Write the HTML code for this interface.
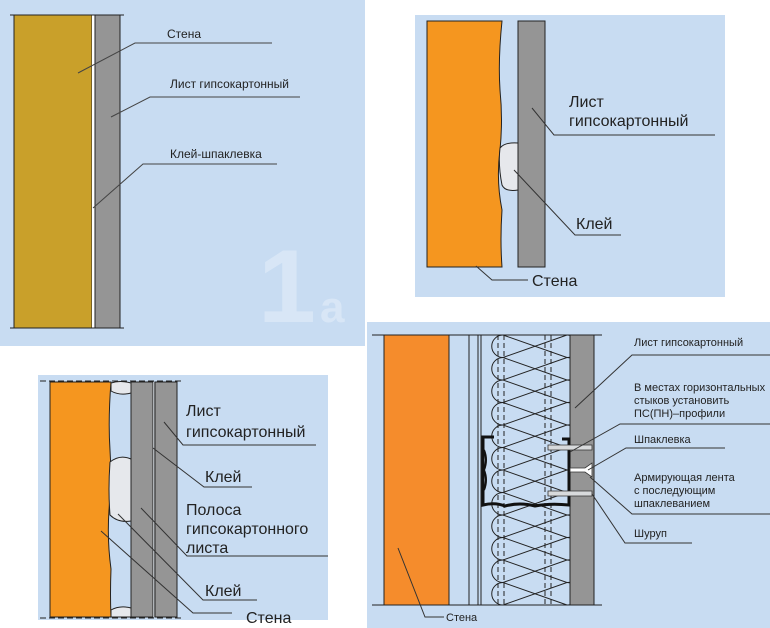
<!DOCTYPE html>
<html><head><meta charset="utf-8"><style>
html,body{margin:0;padding:0;background:#fff;}
svg{display:block;}
text{font-family:"Liberation Sans",sans-serif;fill:#222;}
</style></head><body>
<svg width="770" height="628" viewBox="0 0 770 628" xmlns="http://www.w3.org/2000/svg">
<!-- Panel 1 -->
<rect x="0" y="0" width="365" height="346" fill="#c8dcf2"/>
<text x="258" y="322" font-size="104" font-weight="bold" style="fill:#d8e6f6">1</text>
<text x="320" y="322" font-size="44" font-weight="bold" style="fill:#d8e6f6">a</text>
<rect x="14" y="15" width="78" height="313" fill="#c9a02a" stroke="#222" stroke-width="1"/>
<rect x="92" y="15" width="3" height="313" fill="#fff"/>
<rect x="95" y="15" width="25" height="313" fill="#959595" stroke="#222" stroke-width="1"/>
<line x1="10" y1="15" x2="127" y2="15" stroke="#222" stroke-dasharray="6,3"/>
<line x1="10" y1="328" x2="127" y2="328" stroke="#222" stroke-dasharray="6,3"/>
<polyline points="78,73 135,43 272,43" fill="none" stroke="#444"/>
<polyline points="111,117 150,97 300,97" fill="none" stroke="#444"/>
<polyline points="93,208 143,164 277,164" fill="none" stroke="#444"/>
<text x="167" y="38" font-size="12">Стена</text>
<text x="170" y="88" font-size="12">Лист гипсокартонный</text>
<text x="170" y="158" font-size="12">Клей-шпаклевка</text>

<!-- Panel 2 -->
<rect x="415" y="15" width="310" height="282" fill="#c8dcf2"/>
<path d="M427 21 L502 21 Q498 60 500 90 Q503 120 500 150 Q496 180 502 210 Q500 240 502 267 L427 267 Z" fill="#f5961f" stroke="#222"/>
<rect x="518" y="21" width="27" height="246" fill="#959595" stroke="#222"/>
<path d="M500 148 Q505 142 518 143 L518 190 Q505 192 502 185 Q498 165 500 148 Z" fill="#e6e8ec" stroke="#222"/>
<polyline points="532,108 554,135 715,135" fill="none" stroke="#333"/>
<polyline points="514,170 575,235 621,235" fill="none" stroke="#333"/>
<polyline points="476,266 492,280 528,280" fill="none" stroke="#333"/>
<text x="569" y="107" font-size="16">Лист</text>
<text x="569" y="126" font-size="16">гипсокартонный</text>
<text x="576" y="229" font-size="16">Клей</text>
<text x="532" y="286" font-size="16">Стена</text>

<!-- Panel 3 -->
<rect x="38" y="375" width="290" height="245" fill="#c8dcf2"/>
<path d="M50 382 L111 382 Q108 420 110 450 Q112 480 109 510 Q107 540 111 569 Q110 595 111 617 L50 617 Z" fill="#f5961f" stroke="#222"/>
<path d="M111 383 Q120 380 131 383 L131 393 Q120 396 111 391 Z" fill="#e6e8ec" stroke="#222"/>
<path d="M110 462 Q120 454 131 459 L131 521 Q118 523 110 515 Q108 490 110 462 Z" fill="#e6e8ec" stroke="#222"/>
<path d="M111 610 Q120 605 131 608 L131 617 L111 617 Z" fill="#e6e8ec" stroke="#222"/>
<rect x="131" y="382" width="22" height="235" fill="#959595" stroke="#222"/>
<rect x="153" y="382" width="2" height="235" fill="#b0b4b8"/>
<rect x="155" y="382" width="22" height="235" fill="#959595" stroke="#222"/>
<line x1="40" y1="381" x2="183" y2="381" stroke="#222" stroke-dasharray="6,3"/>
<line x1="40" y1="618" x2="183" y2="618" stroke="#222" stroke-dasharray="6,3"/>
<polyline points="164,422 183,445 316,445" fill="none" stroke="#333"/>
<polyline points="153,448 204,487 252,487" fill="none" stroke="#333"/>
<polyline points="141,508 187,556 328,556" fill="none" stroke="#333"/>
<polyline points="118,514 203,600 257,600" fill="none" stroke="#333"/>
<polyline points="101,531 193,613 232,613" fill="none" stroke="#333"/>
<text x="186" y="416" font-size="16">Лист</text>
<text x="186" y="437" font-size="16">гипсокартонный</text>
<text x="205" y="482" font-size="16">Клей</text>
<text x="186" y="515" font-size="16">Полоса</text>
<text x="186" y="534" font-size="16">гипсокартонного</text>
<text x="186" y="553" font-size="16">листа</text>
<text x="205" y="596" font-size="16">Клей</text>
<text x="246" y="623" font-size="16">Стена</text>

<!-- Panel 4 -->
<rect x="367" y="322" width="403" height="306" fill="#c8dcf2"/>
<line x1="372" y1="335" x2="602" y2="335" stroke="#222"/>
<line x1="372" y1="605" x2="602" y2="605" stroke="#222"/>
<rect x="384" y="335" width="65" height="270" fill="#f58c2c" stroke="#222"/>
<line x1="469" y1="335" x2="469" y2="605" stroke="#222"/>
<line x1="478" y1="335" x2="478" y2="605" stroke="#222"/>
<line x1="481" y1="335" x2="481" y2="605" stroke="#222"/>
<line x1="498" y1="335" x2="498" y2="605" stroke="#222" stroke-dasharray="5,3"/>
<line x1="504" y1="335" x2="504" y2="605" stroke="#222" stroke-dasharray="5,3"/>
<line x1="545" y1="335" x2="545" y2="605" stroke="#222" stroke-dasharray="5,3"/>
<line x1="551" y1="335" x2="551" y2="605" stroke="#222" stroke-dasharray="5,3"/>
<path d="M503 335 A11.25 11.25 0 0 0 503 357.5 A11.25 11.25 0 0 0 503 380 A11.25 11.25 0 0 0 503 402.5 A11.25 11.25 0 0 0 503 425 A11.25 11.25 0 0 0 503 447.5 A11.25 11.25 0 0 0 503 470 A11.25 11.25 0 0 0 503 492.5 A11.25 11.25 0 0 0 503 515 A11.25 11.25 0 0 0 503 537.5 A11.25 11.25 0 0 0 503 560 A11.25 11.25 0 0 0 503 582.5 A11.25 11.25 0 0 0 503 605" fill="none" stroke="#222"/>
<path d="M567 335 A11.25 11.25 0 0 1 567 357.5 A11.25 11.25 0 0 1 567 380 A11.25 11.25 0 0 1 567 402.5 A11.25 11.25 0 0 1 567 425 A11.25 11.25 0 0 1 567 447.5 A11.25 11.25 0 0 1 567 470 A11.25 11.25 0 0 1 567 492.5 A11.25 11.25 0 0 1 567 515 A11.25 11.25 0 0 1 567 537.5 A11.25 11.25 0 0 1 567 560 A11.25 11.25 0 0 1 567 582.5 A11.25 11.25 0 0 1 567 605" fill="none" stroke="#222"/>
<polyline points="503,335 567,357.5 503,380 567,402.5 503,425 567,447.5 503,470 567,492.5 503,515 567,537.5 503,560 567,582.5 503,605" fill="none" stroke="#222"/>
<polyline points="567,335 503,357.5 567,380 503,402.5 567,425 503,447.5 567,470 503,492.5 567,515 503,537.5 567,560 503,582.5 567,605" fill="none" stroke="#222"/>
<rect x="570" y="335" width="24" height="270" fill="#959595" stroke="#222"/>
<!-- profile -->
<path d="M494 437 L483 437 L483 505 Q495 502 505 506 Q520 502 535 506 Q550 503 569 505 L569 439 L562 439" fill="none" stroke="#111" stroke-width="3"/>
<path d="M484 450 Q488 460 484 470 Q488 480 484 490" fill="none" stroke="#111" stroke-width="2"/>
<!-- screws -->
<path d="M548 445 L592 445 L592 450 L548 450 Z" fill="#d8dadc" stroke="#333" stroke-width="0.8"/>
<path d="M548 491 L592 491 L592 496 L548 496 Z" fill="#d8dadc" stroke="#333" stroke-width="0.8"/>
<path d="M570 468 L585 468 L592 463 L592 477 L585 472 L570 472 Z" fill="#fff" stroke="#333" stroke-width="0.8"/>
<polyline points="575,408 632,355 770,355" fill="none" stroke="#333"/>
<polyline points="570,452 620,424 770,424" fill="none" stroke="#333"/>
<polyline points="588,470 626,448 725,448" fill="none" stroke="#333"/>
<polyline points="590,477 632,514 770,514" fill="none" stroke="#333"/>
<polyline points="592,494 625,543 692,543" fill="none" stroke="#333"/>
<polyline points="398,548 425,617 444,617" fill="none" stroke="#333"/>
<text x="634" y="346" font-size="11">Лист гипсокартонный</text>
<text x="634" y="391" font-size="11">В местах горизонтальных</text>
<text x="634" y="404" font-size="11">стыков установить</text>
<text x="634" y="417" font-size="11">ПС(ПН)–профили</text>
<text x="634" y="443" font-size="11">Шпаклевка</text>
<text x="634" y="481" font-size="11">Армирующая лента</text>
<text x="634" y="494" font-size="11">с последующим</text>
<text x="634" y="507" font-size="11">шпаклеванием</text>
<text x="634" y="537" font-size="11">Шуруп</text>
<text x="446" y="621" font-size="11">Стена</text>
</svg>
</body></html>
